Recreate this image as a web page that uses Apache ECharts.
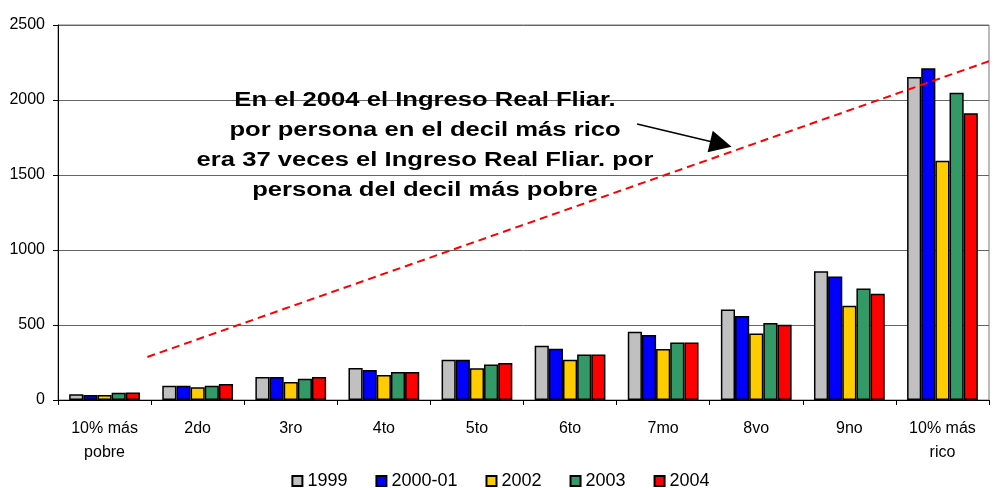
<!DOCTYPE html>
<html>
<head>
<meta charset="utf-8">
<script src="https://cdn.jsdelivr.net/npm/echarts@6/dist/echarts.min.js"></script>
<style>
  html, body { margin: 0; padding: 0; background: #fff; }
  #chart { width: 1001px; height: 488px; }
</style>
</head>
<body>
<div id="chart"></div>
<script>
const categories = ["10% más\npobre", "2do", "3ro", "4to", "5to", "6to", "7mo", "8vo", "9no", "10% más\nrico"];
const legendData = ["1999", "2000-01", "2002", "2003", "2004"];
const colors = ["#C0C0C0", "#0000FF", "#FFCC00", "#339966", "#FF0000"];

const values1999 = [38, 95, 153, 213, 269, 362, 455, 604, 858, 2153];
const values2000 = [33, 95, 153, 200, 269, 342, 433, 560, 824, 2211];
const values2002 = [33, 85, 120, 167, 211, 269, 340, 444, 629, 1595];
const values2003 = [48, 95, 142, 187, 236, 304, 384, 513, 744, 2049];
const values2004 = [50, 107, 153, 187, 247, 304, 384, 502, 709, 1911];

const yTicks = [0, 500, 1000, 1500, 2000, 2500];

// dashed trend line and the arrow, in (category position, value)
const trendLine = [[0.46, 287], [9.63, 2287]];
const arrowLine = [[5.72, 1840], [6.62, 1706]];

const annotationLines = [
  "En el 2004 el Ingreso Real Fliar.",
  "por persona en el decil más rico",
  "era 37 veces el Ingreso Real Fliar. por",
  "persona del decil más pobre",
];

const font = "Liberation Sans";
const seriesValues = [values1999, values2000, values2002, values2003, values2004];

const chart = echarts.init(document.getElementById("chart"), null, { renderer: "canvas" });

const barSeries = seriesValues.map((data, i) => ({
  name: legendData[i],
  type: "bar",
  data,
  barGap: "0%",
  barCategoryGap: "24%",
  itemStyle: {
    color: colors[i],
    borderColor: "#000",
    borderWidth: 1.5,
  },
  emphasis: { disabled: true },
}));

chart.setOption({
  animation: false,
  textStyle: { fontFamily: font, color: "#000" },
  grid: {
    left: 58,
    right: 12,
    top: 25,
    bottom: 88,
    show: true,
    borderColor: "#777",
    borderWidth: 1,
  },
  legend: {
    data: legendData,
    bottom: -7,
    left: "center",
    itemWidth: 10,
    itemHeight: 10,
    itemGap: 28,
    icon: "rect",
    textStyle: { fontSize: 18, color: "#000", fontFamily: font },
  },
  xAxis: [
    {
      type: "category",
      data: categories,
      axisLine: { lineStyle: { color: "#000", width: 1 } },
      axisTick: { show: true, length: 5, interval: 0, lineStyle: { color: "#000" } },
      axisLabel: {
        interval: 0,
        margin: 17,
        fontSize: 16,
        lineHeight: 24,
        color: "#000",
        fontFamily: font,
      },
      splitLine: { show: false },
    },
    {
      // hidden axis used to place the trend line and arrow
      type: "value",
      min: -0.5,
      max: 9.5,
      show: false,
    },
  ],
  yAxis: {
    type: "value",
    min: yTicks[0],
    max: yTicks[yTicks.length - 1],
    interval: 500,
    axisLine: { show: true, onZero: false, lineStyle: { color: "#000", width: 1 } },
    axisTick: { show: true, length: 5, lineStyle: { color: "#000" } },
    axisLabel: {
      margin: 13,
      fontSize: 16,
      color: "#000",
      fontFamily: font,
      formatter: (v) => String(v),
    },
    splitLine: { show: true, lineStyle: { color: "#666", width: 1 } },
  },
  series: [
    ...barSeries,
    {
      name: "trend",
      type: "line",
      xAxisIndex: 1,
      yAxisIndex: 0,
      data: trendLine,
      symbol: "none",
      clip: false,
      silent: true,
      z: 5,
      lineStyle: { color: "#FF0000", width: 2, type: [8, 5] },
      markLine: {
        silent: true,
        symbol: ["none", "triangle"],
        symbolSize: 22,
        label: { show: false },
        lineStyle: { color: "#000", width: 1.5, type: "solid" },
        emphasis: { disabled: true },
        data: [[
          { coord: arrowLine[0], symbol: "none" },
          { coord: arrowLine[1], symbol: "triangle", symbolSize: 22 },
        ]],
      },
    },
  ],
  graphic: [
    {
      type: "text",
      x: 425,
      y: 145,
      scaleX: 1.28,
      silent: true,
      z: 10,
      style: {
        text: annotationLines.join("\n"),
        fontSize: 20,
        fontWeight: "bold",
        fontFamily: font,
        lineHeight: 30,
        textAlign: "center",
        textVerticalAlign: "middle",
        fill: "#000",
      },
    },
  ],
});
</script>
</body>
</html>
